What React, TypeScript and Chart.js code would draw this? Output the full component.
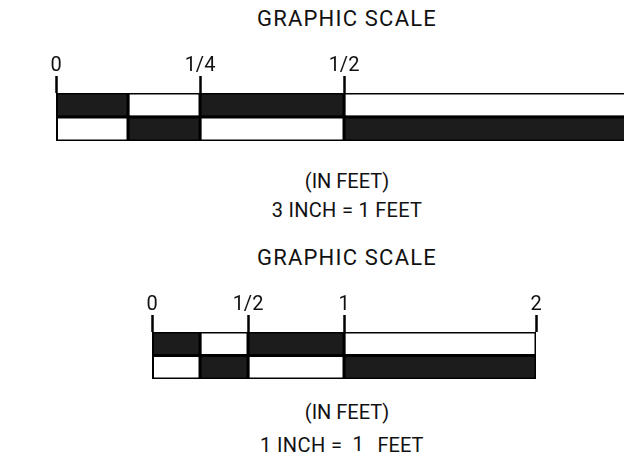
import React, { useEffect, useRef } from "react";
import { Chart, registerables } from "chart.js";

Chart.register(...registerables);

// ---- data ----
const rows = ["upper", "lower"];

// 3 INCH = 1 FEET scale
const topSegments: [number, number][] = [
  [0, 0.125],
  [0.125, 0.25],
  [0.25, 0.5],
  [0.5, 1],
];
const topTickValues = [0, 0.25, 0.5, 1];
const topTickLabels = ["0", "1/4", "1/2", "1"];

// 1 INCH = 1 FEET scale
const bottomSegments: [number, number][] = [
  [0, 0.25],
  [0.25, 0.5],
  [0.5, 1],
  [1, 2],
];
const bottomTickValues = [0, 0.5, 1, 2];
const bottomTickLabels = ["0", "1/2", "1", "2"];

// upper row shading pattern (lower row is the inverse)
const upperShaded = [true, false, true, false];

const DARK = "#1c1c1c";
const LIGHT = "#ffffff";
const FONT = "Roboto";

function makeConfig(
  segments: [number, number][],
  tickValues: number[],
  tickLabels: string[],
  max: number,
  padLeft: number,
  padRight: number
): any {
  return {
    type: "bar",
    data: {
      labels: rows,
      datasets: segments.map((seg, i) => ({
        data: rows.map(() => seg),
        backgroundColor: rows.map((_, r) =>
          (r === 0 ? upperShaded[i] : !upperShaded[i]) ? DARK : LIGHT
        ),
        borderColor: "#000",
        borderWidth: 3,
        borderSkipped: false,
        inflateAmount: 1.5,
        barPercentage: 1,
        categoryPercentage: 1,
        grouped: false,
      })),
    },
    options: {
      indexAxis: "y",
      responsive: false,
      animation: false,
      layout: { padding: { left: padLeft, right: padRight, top: 0, bottom: 4 } },
      plugins: { legend: { display: false }, tooltip: { enabled: false }, title: { display: false } },
      scales: {
        x: {
          type: "linear",
          position: "top",
          min: 0,
          max,
          afterBuildTicks: (scale: any) => {
            scale.ticks = tickValues.map((v) => ({ value: v }));
          },
          ticks: {
            autoSkip: false,
            maxRotation: 0,
            padding: 0,
            color: "#111",
            font: { family: FONT, size: 20, lineHeight: 1 },
            callback: (v: any) => {
              const idx = tickValues.indexOf(Number(v));
              return idx >= 0 ? tickLabels[idx] : "";
            },
          },
          grid: {
            drawOnChartArea: false,
            drawTicks: true,
            tickLength: 17,
            tickWidth: 2.5,
            tickColor: "#000",
            color: "#000",
          },
          border: { display: false },
        },
        y: {
          type: "category",
          display: false,
          offset: true,
        },
      },
    },
  };
}

function ScaleChart(props: {
  cfg: () => any;
  width: number;
  height: number;
  top: number;
}) {
  const ref = useRef<HTMLCanvasElement>(null);
  useEffect(() => {
    if (!ref.current) return;
    const chart = new Chart(ref.current, props.cfg());
    return () => chart.destroy();
  }, []);
  return (
    <canvas
      ref={ref}
      width={props.width}
      height={props.height}
      style={{
        position: "absolute",
        left: 0,
        top: props.top,
        width: props.width,
        height: props.height,
      }}
    />
  );
}

function Label(props: {
  top: number;
  size?: number;
  spacing?: number;
  left?: number;
  children: React.ReactNode;
}) {
  const leftAligned = props.left !== undefined;
  return (
    <div
      style={{
        position: "absolute",
        left: leftAligned ? props.left : 197,
        width: leftAligned ? undefined : 300,
        top: props.top,
        textAlign: leftAligned ? "left" : "center",
        fontFamily: FONT,
        fontSize: props.size ?? 20,
        letterSpacing: props.spacing ?? 0,
        lineHeight: "24px",
        color: "#111",
        whiteSpace: "pre",
      }}
    >
      {props.children}
    </div>
  );
}

export default function App() {
  return (
    <div
      style={{
        position: "fixed",
        left: 0,
        top: 0,
        width: 624,
        height: 461,
        overflow: "hidden",
        background: "#fff",
      }}
    >
      <Label top={6.8} size={22} spacing={1.2}>GRAPHIC SCALE</Label>
      <ScaleChart
        cfg={() => makeConfig(topSegments, topTickValues, topTickLabels, 1, 56, 28)}
        width={660}
        height={89}
        top={56}
      />
      <Label top={168.8}>(IN FEET)</Label>
      <Label top={197.8} spacing={0.3}>3 INCH = 1 FEET</Label>
      <Label top={245.8} size={22} spacing={1.2}>GRAPHIC SCALE</Label>
      <ScaleChart
        cfg={() => makeConfig(bottomSegments, bottomTickValues, bottomTickLabels, 2, 152, 64)}
        width={600}
        height={88}
        top={295}
      />
      <Label top={399.8}>(IN FEET)</Label>
      <Label top={433.3} left={260} spacing={0.4}>1 INCH =</Label>
      <Label top={432} left={352.5}>1</Label>
      <Label top={433.3} left={377.5}>FEET</Label>
    </div>
  );
}
